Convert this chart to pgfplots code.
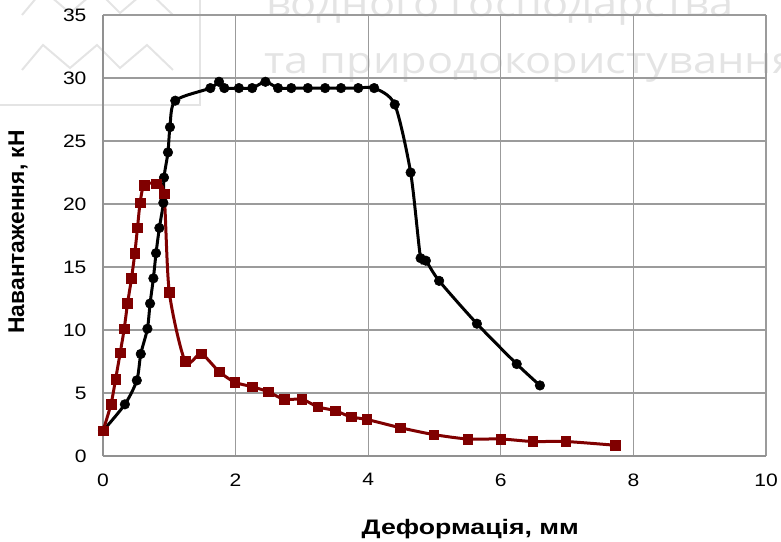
\documentclass[border=0pt]{standalone}
\usepackage{fontspec}
\setmainfont{Liberation Sans}
\newfontfamily\wmfont{Open Sans}
\usepackage{pgfplots}
\pgfplotsset{compat=1.18}
\definecolor{gridgray}{RGB}{155,155,155}
\definecolor{axisgray}{RGB}{145,145,145}
\definecolor{wmgray}{RGB}{228,228,228}
\definecolor{darkred}{RGB}{128,0,0}
% text in this chart is set slightly wide
\newcommand{\wide}[1]{\scalebox{1.17}[1]{#1}}

\begin{document}
\begin{tikzpicture}[x=1pt,y=1pt]
% background mark: logo outline and two lines of text, kept inside the page
\begin{scope}
  \clip (-103,-85) rectangle (678,456);
  \draw[wmgray, line width=2pt] (-110,351) -- (97,351) -- (97,460);
  \draw[wmgray, line width=2pt, line join=miter]
    (-81,386) -- (-60,411) -- (-33,388) -- (-6,411) -- (17,388) -- (44,411) -- (70,386);
  \draw[wmgray, line width=2pt, line join=miter]
    (-81,441) -- (-60,466) -- (-33,443) -- (-6,466) -- (17,443) -- (44,466) -- (70,441);
  \node[anchor=base west, inner sep=0, text=wmgray, font=\wmfont\fontsize{37}{37}\selectfont]
    at (163,439) {\wide{водного господарства}};
  \node[anchor=base west, inner sep=0, text=wmgray, font=\wmfont\fontsize{37}{37}\selectfont]
    at (161,382) {\wide{та природокористування}};
\end{scope}

\begin{axis}[
  at={(0,0)}, anchor=south west,
  scale only axis, width=663pt, height=441pt,
  xmin=0, xmax=10, ymin=0, ymax=35,
  xtick={0,2,...,10}, ytick={0,5,...,35},
  major tick length=0pt,
  grid=major,
  grid style={gridgray, line width=1.3pt},
  axis lines*=left,
  axis line style={-, axisgray, line width=2.6pt},
  tick label style={font=\fontsize{18}{18}\selectfont},
  /pgf/number format/assume math mode=true,
  xticklabel={\wide{\pgfmathprintnumber{\tick}}},
  yticklabel={\wide{\pgfmathprintnumber{\tick}}},
  x tick label style={yshift=-14pt},
  y tick label style={xshift=-13pt},
  xlabel={\scalebox{1.27}[1]{Деформація, мм}},
  ylabel={Навантаження, кН},
  x label style={at={(axis description cs:0.554,-0.1791)}, anchor=base, inner sep=0,
    font=\fontsize{21}{21}\selectfont\bfseries},
  y label style={at={(axis description cs:-0.1282,0.508)}, anchor=center, rotate=0, inner sep=0,
    font=\fontsize{22.8}{22.8}\selectfont\bfseries},
  clip=false,
]
% specimen 1: black circles
\addplot[black, line width=3pt, smooth, tension=0.45,
  mark=*, mark size=4.8pt, mark options={line width=0.5pt}] coordinates {
  (0,2) (0.33,4.1) (0.51,6.0) (0.57,8.1) (0.67,10.1) (0.71,12.1) (0.76,14.1)
  (0.80,16.1) (0.85,18.1) (0.91,20.1) (0.92,22.1) (0.98,24.1) (1.01,26.1)
  (1.09,28.2) (1.62,29.2) (1.75,29.7) (1.83,29.2) (2.05,29.2) (2.25,29.2)
  (2.45,29.7) (2.64,29.2) (2.84,29.2) (3.09,29.2) (3.35,29.2) (3.59,29.2)
  (3.85,29.2) (4.09,29.2) (4.40,27.9) (4.64,22.5) (4.79,15.7) (4.87,15.5)
  (5.07,13.9) (5.64,10.5) (6.24,7.3) (6.59,5.6)
};
% specimen 2: dark red squares
\addplot[darkred, line width=3pt, smooth, tension=0.45,
  mark=square*, mark size=4.8pt, mark options={line width=0.5pt}] coordinates {
  (0,2) (0.12,4.1) (0.19,6.1) (0.26,8.2) (0.32,10.1) (0.37,12.1) (0.43,14.1)
  (0.48,16.1) (0.52,18.1) (0.56,20.1) (0.62,21.5) (0.80,21.6) (0.92,20.8)
  (1.00,13.0) (1.24,7.5) (1.48,8.1) (1.75,6.7) (1.99,5.85) (2.25,5.5)
  (2.49,5.1) (2.73,4.5) (3.00,4.5) (3.24,3.9) (3.50,3.6) (3.74,3.1)
  (3.98,2.9) (4.48,2.25) (4.99,1.7) (5.50,1.35) (6.00,1.35) (6.48,1.15)
  (6.98,1.15) (7.73,0.85)
};
\end{axis}
\pgfresetboundingbox
\useasboundingbox (-103,-85) rectangle (678,456);
\end{tikzpicture}
\end{document}
